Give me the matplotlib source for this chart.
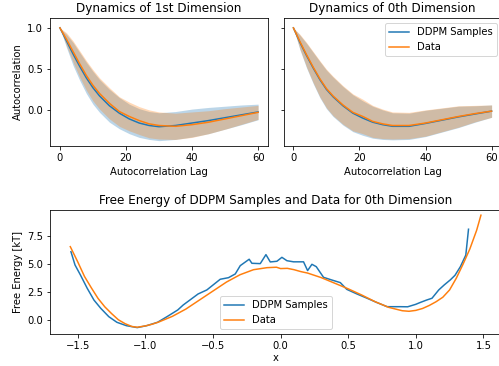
import numpy as np
import matplotlib
matplotlib.use("Agg")
import matplotlib.pyplot as plt

# ---- Autocorrelation data ----
lags = [0, 2, 4, 6, 8, 10, 12, 15, 18, 21, 24, 27, 30, 35, 40, 45, 50, 55, 60]

# Dimension 1 (left panel)
d1_ddpm_mean = [1.0, 0.84, 0.68, 0.53, 0.39, 0.27, 0.17, 0.05, -0.04, -0.11, -0.16, -0.19,
                -0.205, -0.19, -0.16, -0.13, -0.095, -0.06, -0.025]
d1_ddpm_std = [0.0, 0.08, 0.14, 0.17, 0.19, 0.20, 0.20, 0.20, 0.19, 0.18, 0.175, 0.17,
               0.17, 0.17, 0.17, 0.16, 0.14, 0.12, 0.095]
d1_data_mean = [1.0, 0.86, 0.71, 0.56, 0.42, 0.30, 0.20, 0.08, -0.02, -0.08, -0.13, -0.17,
                -0.19, -0.20, -0.18, -0.15, -0.11, -0.07, -0.03]
d1_data_std = [0.0, 0.08, 0.13, 0.16, 0.18, 0.19, 0.19, 0.19, 0.18, 0.175, 0.17, 0.17,
               0.165, 0.16, 0.155, 0.14, 0.125, 0.105, 0.085]

# Dimension 0 (right panel)
d0_ddpm_mean = [1.0, 0.82, 0.66, 0.51, 0.37, 0.25, 0.16, 0.05, -0.04, -0.10, -0.15, -0.18,
                -0.20, -0.20, -0.165, -0.125, -0.085, -0.05, -0.015]
d0_ddpm_std = [0.0, 0.09, 0.15, 0.19, 0.22, 0.235, 0.24, 0.235, 0.225, 0.21, 0.195, 0.18,
               0.165, 0.16, 0.16, 0.145, 0.13, 0.10, 0.075]
d0_data_mean = [1.0, 0.83, 0.67, 0.52, 0.38, 0.26, 0.17, 0.06, -0.03, -0.08, -0.14, -0.17,
                -0.19, -0.19, -0.16, -0.12, -0.08, -0.045, -0.015]
d0_data_std = [0.0, 0.09, 0.15, 0.19, 0.22, 0.235, 0.24, 0.235, 0.225, 0.21, 0.195, 0.18,
               0.165, 0.16, 0.16, 0.145, 0.13, 0.10, 0.075]

# ---- Free energy data ----
fe_ddpm_x = [-1.55, -1.52, -1.48, -1.43, -1.38, -1.33, -1.27, -1.21, -1.14, -1.06, -0.99,
             -0.91, -0.84, -0.76, -0.72, -0.61, -0.545, -0.446, -0.385, -0.335, -0.298,
             -0.232, -0.212, -0.15, -0.108, -0.076, -0.027, 0.01, 0.047, 0.096, 0.17,
             0.20, 0.232, 0.264, 0.318, 0.38, 0.442, 0.49, 0.565, 0.64, 0.714, 0.788,
             0.886, 0.94, 1.0, 1.03, 1.08, 1.12, 1.17, 1.21, 1.256, 1.29, 1.33, 1.37, 1.39]
fe_ddpm_y = [6.1, 4.92, 4.03, 2.85, 1.8, 1.07, 0.32, -0.18, -0.48, -0.65, -0.48,
             -0.18, 0.32, 0.92, 1.36, 2.34, 2.7, 3.65, 3.79, 4.12, 4.86,
             5.43, 5.07, 5.04, 5.84, 5.19, 5.25, 5.6, 5.3, 5.2, 5.2,
             4.42, 4.98, 4.77, 3.82, 3.58, 3.35, 2.75, 2.34, 1.96, 1.57, 1.21,
             1.21, 1.2, 1.42, 1.57, 1.8, 1.96, 2.7, 3.14, 3.6, 4.0, 4.77, 5.8, 8.1]

fe_data_x = [-1.555, -1.5, -1.45, -1.4, -1.35, -1.3, -1.25, -1.2, -1.15, -1.1, -1.06, -1.0,
             -0.95, -0.9, -0.8, -0.7, -0.6, -0.5, -0.4, -0.3, -0.2, -0.1, -0.03, 0.0,
             0.05, 0.1, 0.15, 0.2, 0.3, 0.4, 0.5, 0.6, 0.7, 0.8, 0.9, 0.95, 1.0, 1.05,
             1.1, 1.15, 1.2, 1.25, 1.3, 1.35, 1.4, 1.45, 1.482]
fe_data_y = [6.55, 5.2, 3.9, 2.9, 1.95, 1.2, 0.6, 0.05, -0.3, -0.55, -0.62, -0.5,
             -0.35, -0.15, 0.35, 1.0, 1.8, 2.6, 3.4, 4.05, 4.5, 4.68, 4.72, 4.6,
             4.62, 4.5, 4.33, 4.2, 3.8, 3.3, 2.8, 2.25, 1.65, 1.15, 0.85, 0.8, 0.88, 1.05,
             1.32, 1.65, 2.05, 2.7, 3.75, 5.0, 6.35, 8.0, 9.35]

W, H = 499, 366
fig = plt.figure(figsize=(W / 72, H / 72), dpi=72)

ax1 = fig.add_axes([50 / W, 1 - 146 / H, 218 / W, 128 / H])
ax2 = fig.add_axes([283.5 / W, 1 - 146 / H, 218 / W, 128 / H], sharey=ax1)
ax3 = fig.add_axes([50 / W, 1 - 334 / H, 451.5 / W, 124 / H])

C0, C1 = "#1f77b4", "#ff7f0e"
lg = np.array(lags)

def panel(ax, m_b, s_b, m_o, s_o, title):
    m_b, s_b, m_o, s_o = map(np.array, (m_b, s_b, m_o, s_o))
    ax.plot(lg, m_b, color=C0, label="DDPM Samples")
    ax.fill_between(lg, m_b - s_b, m_b + s_b, color=C0, alpha=0.3, lw=0)
    ax.plot(lg, m_o, color=C1, label="Data")
    ax.fill_between(lg, m_o - s_o, m_o + s_o, color=C1, alpha=0.3, lw=0)
    ax.set_title(title)
    ax.set_xlabel("Autocorrelation Lag")
    ax.set_xlim(-3, 63)
    ax.set_xticks([0, 20, 40, 60])

panel(ax1, d1_ddpm_mean, d1_ddpm_std, d1_data_mean, d1_data_std, "Dynamics of 1st Dimension")
panel(ax2, d0_ddpm_mean, d0_ddpm_std, d0_data_mean, d0_data_std, "Dynamics of 0th Dimension")
ax1.set_ylabel("Autocorrelation")
ax1.set_ylim(-0.44, 1.12)
ax1.set_yticks([0.0, 0.5, 1.0])
plt.setp(ax2.get_yticklabels(), visible=False)
ax2.legend(loc="upper right")

ax3.plot(fe_ddpm_x, fe_ddpm_y, color=C0, label="DDPM Samples")
ax3.plot(fe_data_x, fe_data_y, color=C1, label="Data")
ax3.set_xlim(-1.705, 1.634)
ax3.set_ylim(-1.22, 9.81)
ax3.set_yticks([0.0, 2.5, 5.0, 7.5])
ax3.set_title("Free Energy of DDPM Samples and Data for 0th Dimension")
ax3.set_xlabel("x", labelpad=2)
ax3.set_ylabel("Free Energy [kT]")
ax3.legend(loc="lower center")

fig.savefig("out.png", dpi=72)
